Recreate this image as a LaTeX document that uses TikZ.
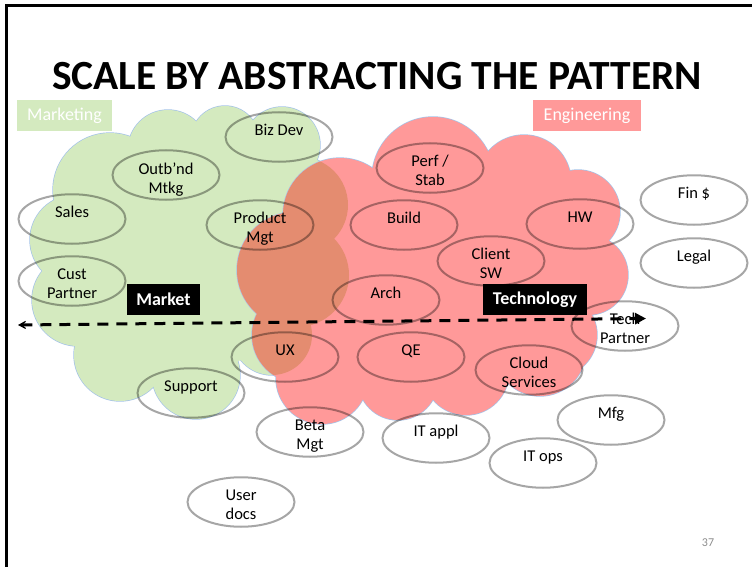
\documentclass[tikz,border=0pt]{standalone}
\usepackage{fontspec}
\setmainfont{Carlito}
\usetikzlibrary{shapes.geometric,arrows.meta}
\definecolor{greencl}{RGB}{212,234,191}
\definecolor{redcl}{RGB}{255,153,153}
\definecolor{overlapcl}{RGB}{228,140,112}
\definecolor{cloudedge}{RGB}{165,195,232}
\definecolor{pagenum}{RGB}{140,140,140}
\def\greenlobes{(110,190) circle (57pt) (168,150) circle (40pt) (225,140) circle (34pt)
 (282,145) circle (38pt) (300,205) circle (48pt) (297,275) circle (52pt)
 (272,335) circle (40pt) (196,375) circle (44pt) (120,355) circle (46pt)
 (78,300) circle (46pt) (75,240) circle (45pt)}
\def\greenfill{(190,265) ellipse (120pt and 105pt) (240,190) circle (45pt)}
\def\redlobes{(340,215) circle (57pt) (295,270) circle (58pt) (300,335) circle (48pt)
 (322,378) circle (46pt) (433,178) circle (61pt) (524,182) circle (47pt)
 (578,212) circle (42pt) (588,275) circle (40pt) (555,335) circle (42pt)
 (540,350) circle (46pt) (466,372) circle (43pt) (398,380) circle (40pt)}
\def\redfill{(450,290) ellipse (140pt and 100pt)}
\newcommand\ovalnode[4]{%
 \node[oval] (#1) at (#2,#3) {};
 \node[lbl, anchor=north] (#1-t) at ([yshift=-13pt]#1.north) {#4};}
\begin{document}
\begin{tikzpicture}[x=1pt,y=-1pt,
 oval/.style={ellipse, draw=black, draw opacity=0.35, line width=2pt,
   minimum width=107pt, minimum height=49.5pt, inner sep=0pt},
 lbl/.style={font=\fontsize{16.5}{19}\selectfont, align=center, inner sep=0pt},
 groupbox/.style={minimum height=31pt, inner sep=0pt, text=white,
   font=\fontsize{18}{20}\selectfont},
 axisbox/.style={fill=black, minimum height=31pt, inner sep=0pt, text=white,
   font=\fontsize{18}{20}\selectfont\bfseries}]
\useasboundingbox (0,0) rectangle (752,567);
% slide frame
\draw[line width=2.2pt] (6.5,567) -- (6.5,5.5) -- (752,5.5);
% title
\node[font=\fontsize{41.5}{48}\selectfont\bfseries, anchor=base, inner sep=0pt] (title) at (377,90) {SCALE BY ABSTRACTING THE PATTERN};
% green cloud
\draw[cloudedge, line width=1.4pt] \greenlobes;
\fill[greencl] \greenlobes \greenfill;
% red cloud
\draw[cloudedge, line width=1.4pt] \redlobes;
\fill[redcl] \redlobes \redfill;
\begin{scope}
 \clip \greenlobes \greenfill;
 \fill[overlapcl] \redlobes \redfill;
\end{scope}
% group labels
\node[groupbox, fill=greencl, minimum width=95pt] (marketing) at (64.5,115.5) {Marketing};
\node[groupbox, fill=redcl, minimum width=108pt] (engineering) at (587,115.5) {Engineering};
% ovals
\ovalnode{bizdev}{279}{137}{Biz Dev}
\ovalnode{outbnd}{166}{175}{Outb’nd\\Mtkg}
\ovalnode{sales}{72}{219}{Sales}
\ovalnode{prodmgt}{260}{225}{Product\\Mgt}
\ovalnode{cust}{72}{281}{Cust\\Partner}
\ovalnode{perf}{430}{168}{Perf /\\Stab}
\ovalnode{build}{404}{225}{Build}
\ovalnode{hw}{580}{224}{HW}
\ovalnode{fin}{694}{200}{Fin \$}
\ovalnode{legal}{694}{263}{Legal}
\ovalnode{client}{491}{261}{Client\\SW}
\ovalnode{arch}{386}{300}{Arch}
\ovalnode{techp}{625}{326}{Tech\\Partner}
\ovalnode{ux}{285}{357}{UX}
\ovalnode{qe}{411}{357}{QE}
\ovalnode{cloudsvc}{529}{370}{Cloud\\Services}
\ovalnode{support}{191}{393}{Support}
\ovalnode{beta}{310}{432}{Beta\\Mgt}
\ovalnode{itappl}{436}{438}{IT appl}
\ovalnode{mfg}{611}{420}{Mfg}
\ovalnode{itops}{543}{463}{IT ops}
\ovalnode{userdocs}{241}{502}{User\\docs}
% axis labels
\node[axisbox, minimum width=73pt] (market) at (163.5,299.5) {Market};
\node[axisbox, minimum width=104pt] (technology) at (535,299.5) {Technology};
% axis arrow
\coordinate (arrL) at (18,325);
\coordinate (arrR) at (646,318.5);
\draw[line width=3pt, dash pattern=on 11pt off 8pt,
  {Stealth[length=12pt,width=13pt,inset=8pt]}-{Triangle[length=11pt,width=11pt]}]
  (arrL) -- (arrR);
% page number
\node[font=\fontsize{12}{14}\selectfont, text=pagenum, anchor=base, inner sep=0pt] (pagenum) at (708,546) {37};
\end{tikzpicture}
\end{document}
